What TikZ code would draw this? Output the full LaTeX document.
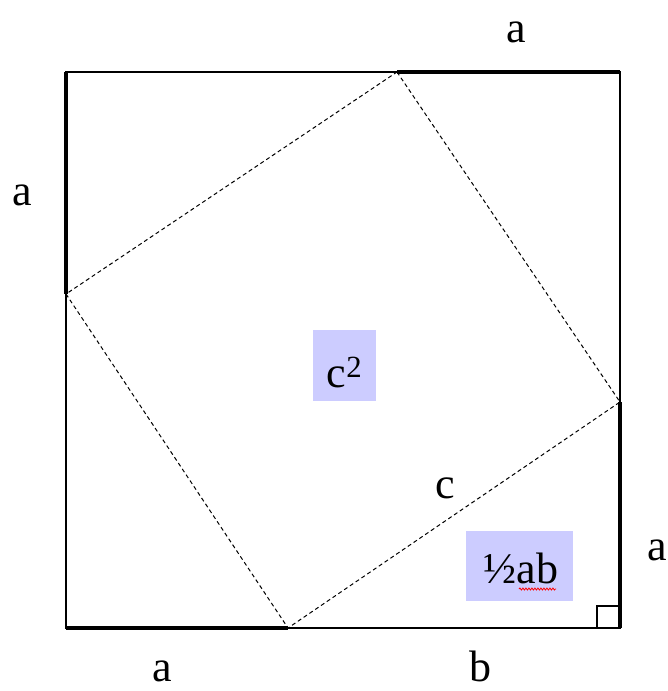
\documentclass[tikz,border=0pt]{standalone}
\usepackage{fontspec}
\setmainfont{Liberation Serif}
\usetikzlibrary{decorations.pathmorphing}
\definecolor{boxfill}{RGB}{204,204,255}
\tikzset{
  thin edge/.style={line width=1.2pt, black},
  thick edge/.style={line width=4.5pt, black},
  hyp/.style={line width=1pt, dash pattern=on 4pt off 3pt, black},
  lbl/.style={anchor=base, inner sep=0pt, font=\fontsize{44}{44}\selectfont},
  areabox/.style={fill=boxfill, draw=none, inner sep=0pt},
  wavy/.style={red, line width=0.8pt, decorate, decoration={snake, amplitude=1pt, segment length=3pt}}
}
\begin{document}
\begin{tikzpicture}[x=1pt, y=-1pt]
\useasboundingbox (0,0) rectangle (668,691);
% corners
\coordinate (TL) at (66,72);
\coordinate (TR) at (620,72);
\coordinate (BR) at (620,628);
\coordinate (BL) at (66,628);
% tangent points
\coordinate (PT) at (397,72);
\coordinate (PL) at (66,294);
\coordinate (PR) at (620,402);
\coordinate (PB) at (288,628);
% area boxes
\node[areabox, minimum width=63pt, minimum height=71pt] (c2box) at (344.5,365.5) {};
\node[areabox, minimum width=107pt, minimum height=70pt] (abbox) at (519.5,566) {};
% square outline
\draw[thin edge] (TL) -- (TR) -- (BR) -- (BL) -- cycle;
% thick segments
\draw[thick edge] (TL) -- (PL);
\draw[thick edge] (PT) -- (TR);
\draw[thick edge] (PR) -- (BR);
\draw[thick edge] (BL) -- (PB);
% inner square
\draw[hyp] (PT) -- (PR) -- (PB) -- (PL) -- cycle;
% right angle mark
\coordinate (RA1) at (597,628);
\coordinate (RA2) at (597,606);
\coordinate (RA3) at (620,606);
\draw[line width=1.2pt] (RA1) -- (RA2) -- (RA3);
% labels
\node[lbl] (atop) at (516,42) {a};
\node[lbl] (aleft) at (22,205) {a};
\node[lbl] (aright) at (657,560) {a};
\node[lbl] (abot) at (162,681) {a};
\node[lbl] (bbot) at (480,681) {b};
\node[lbl] (clbl) at (445,498) {c};
\node[lbl] (c2) at (344.5,387) {c\textsuperscript{2}};
\node[lbl] (half) at (521,583) {½ab};
\coordinate (w1) at (519,589);
\coordinate (w2) at (556,589);
\draw[wavy] (w1) -- (w2);
\end{tikzpicture}
\end{document}
